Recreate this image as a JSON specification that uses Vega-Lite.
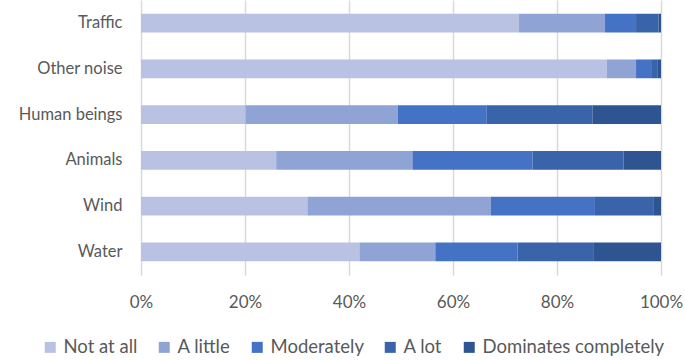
{
  "$schema": "https://vega.github.io/schema/vega-lite/v6.json",
  "width": 520,
  "height": 275,
  "autosize": {"type": "none"},
  "padding": {"left": 141, "top": 0, "right": 24, "bottom": 85},
  "background": "white",
  "config": {
    "view": {"stroke": null},
    "font": "Lato",
    "axis": {"labelFont": "Lato", "labelColor": "#595959", "labelFontSize": 16.5},
    "legend": {"labelFont": "Lato", "labelColor": "#595959", "labelFontSize": 18.5}
  },
  "data": {
    "values": [
      {"source": "Traffic", "level": "Not at all", "pct": 72.7},
      {"source": "Traffic", "level": "A little", "pct": 16.5},
      {"source": "Traffic", "level": "Moderately", "pct": 6.0},
      {"source": "Traffic", "level": "A lot", "pct": 4.3},
      {"source": "Traffic", "level": "Dominates completely", "pct": 0.5},
      {"source": "Other noise", "level": "Not at all", "pct": 89.6},
      {"source": "Other noise", "level": "A little", "pct": 5.6},
      {"source": "Other noise", "level": "Moderately", "pct": 2.9},
      {"source": "Other noise", "level": "A lot", "pct": 1.3},
      {"source": "Other noise", "level": "Dominates completely", "pct": 0.6},
      {"source": "Human beings", "level": "Not at all", "pct": 20.1},
      {"source": "Human beings", "level": "A little", "pct": 29.3},
      {"source": "Human beings", "level": "Moderately", "pct": 17.1},
      {"source": "Human beings", "level": "A lot", "pct": 20.3},
      {"source": "Human beings", "level": "Dominates completely", "pct": 13.2},
      {"source": "Animals", "level": "Not at all", "pct": 26.0},
      {"source": "Animals", "level": "A little", "pct": 26.2},
      {"source": "Animals", "level": "Moderately", "pct": 23.1},
      {"source": "Animals", "level": "A lot", "pct": 17.5},
      {"source": "Animals", "level": "Dominates completely", "pct": 7.2},
      {"source": "Wind", "level": "Not at all", "pct": 32.0},
      {"source": "Wind", "level": "A little", "pct": 35.3},
      {"source": "Wind", "level": "Moderately", "pct": 20.0},
      {"source": "Wind", "level": "A lot", "pct": 11.2},
      {"source": "Wind", "level": "Dominates completely", "pct": 1.5},
      {"source": "Water", "level": "Not at all", "pct": 42.0},
      {"source": "Water", "level": "A little", "pct": 14.6},
      {"source": "Water", "level": "Moderately", "pct": 15.8},
      {"source": "Water", "level": "A lot", "pct": 14.7},
      {"source": "Water", "level": "Dominates completely", "pct": 12.9}
    ]
  },
  "transform": [
    {"calculate": "indexof(['Not at all', 'A little', 'Moderately', 'A lot', 'Dominates completely'], datum.level)", "as": "levelRank"}
  ],
  "mark": {"type": "bar"},
  "encoding": {
    "y": {
      "field": "source",
      "type": "nominal",
      "sort": ["Traffic", "Other noise", "Human beings", "Animals", "Wind", "Water"],
      "scale": {"paddingInner": 0.59, "paddingOuter": 0.3},
      "axis": {"title": null, "ticks": false, "domain": false, "labelPadding": 19, "grid": false}
    },
    "x": {
      "field": "pct",
      "type": "quantitative",
      "stack": "normalize",
      "scale": {"domain": [0, 1], "nice": false},
      "axis": {
        "title": null,
        "format": ".0%",
        "values": [0, 0.2, 0.4, 0.6, 0.8, 1],
        "ticks": false,
        "domain": false,
        "grid": true,
        "gridColor": "#D9D9D9",
        "gridWidth": 1.5,
        "labelPadding": 19,
        "labelFontSize": 17,
        "labelFlush": false,
        "labelOverlap": false
      }
    },
    "order": {"field": "levelRank", "type": "quantitative", "sort": "ascending"},
    "color": {
      "field": "level",
      "type": "nominal",
      "sort": ["Not at all", "A little", "Moderately", "A lot", "Dominates completely"],
      "scale": {
        "domain": ["Not at all", "A little", "Moderately", "A lot", "Dominates completely"],
        "range": ["#B9C2E2", "#8FA3D4", "#4472C4", "#3A64AA", "#2F5492"]
      },
      "legend": {
        "title": null,
        "orient": "none",
        "direction": "horizontal",
        "legendX": -100,
        "legendY": 338,
        "symbolType": "square",
        "symbolSize": 121,
        "symbolStrokeWidth": 0,
        "labelOffset": 4,
        "labelLimit": 400,
        "columnPadding": 17
      }
    }
  }
}
